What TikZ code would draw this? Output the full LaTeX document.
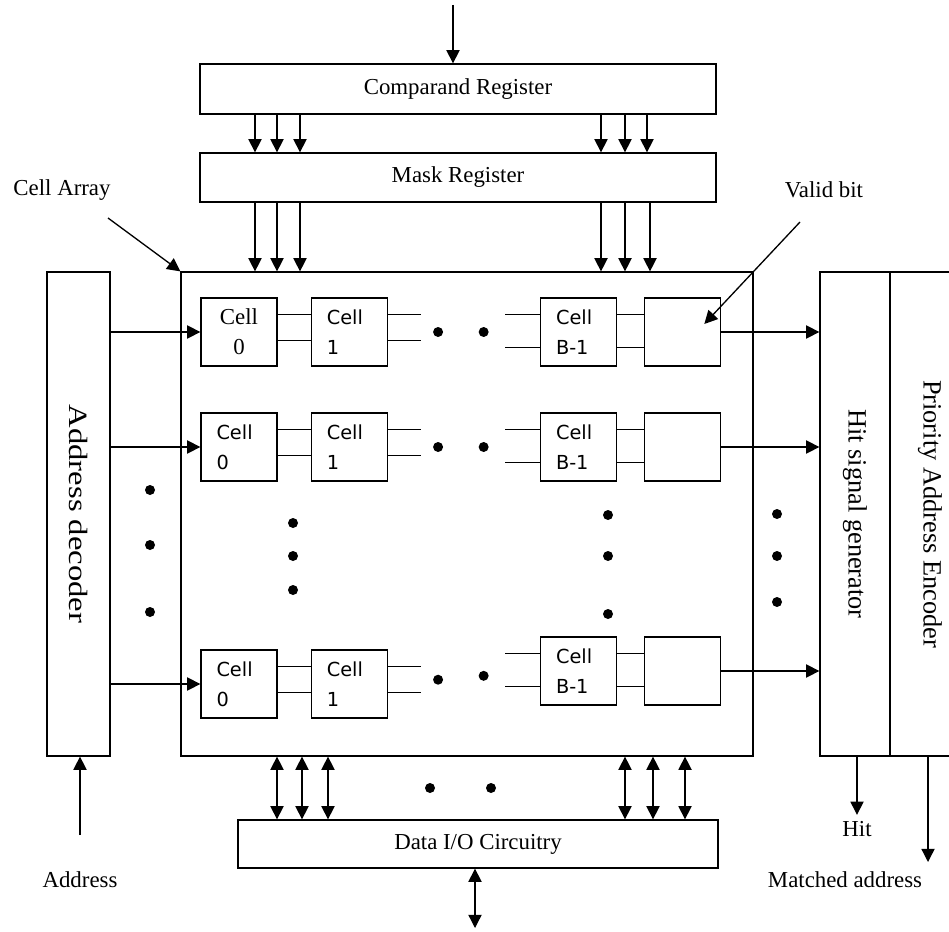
\documentclass[tikz,border=0pt]{standalone}
\usepackage{fontspec}
\setmainfont{Liberation Serif}
\newfontfamily\cellfont{DejaVu Sans}
\usetikzlibrary{calc, arrows.meta, positioning}

\begin{document}
\begin{tikzpicture}[x=0.02cm, y=-0.02cm, >={Triangle[length=7.5pt,width=7.5pt]}, line width=0.75pt, font=\fontsize{13}{15}\selectfont,
  box/.style={draw, inner sep=0pt, align=center},
  cell/.style={draw, inner sep=0pt, minimum width=1.52cm, minimum height=1.36cm, text width=0.9cm, align=left, font=\cellfont\fontsize{11}{17}\selectfont},
  cellz/.style={cell, align=center, font=\fontsize{13}{17}\selectfont},
  vtext/.style={font=\fontsize{15}{17}\selectfont}]
\clip (0,0) rectangle (949,932);
% registers and blocks
\node[box, minimum width=10.32cm, minimum height=1cm] (comp) at (458,89) {Comparand Register};
\node[box, minimum width=10.32cm, minimum height=0.98cm] (mask) at (458,177.5) {Mask Register};
\node[box, minimum width=11.44cm, minimum height=9.68cm] (arr) at (467,514) {};
\node[box, vtext, minimum width=1.26cm, minimum height=9.68cm] (dec) at (78.5,514) {\rotatebox{-90}{\scalebox{1.24}[1]{Address decoder}}};
\node[box, vtext, minimum width=1.4cm, minimum height=9.68cm] (hit) at (855,514) {\rotatebox{-90}{Hit signal generator}};
\node[box, vtext, minimum width=1.6cm, minimum height=9.68cm] (enc) at (930,514) {\rotatebox{-90}{Priority Address Encoder}};
\node[box, minimum width=9.6cm, minimum height=0.96cm] (dio) at (478,844) {Data I/O Circuitry};
% cell rows
\foreach \r/\y/\dy/\st in {1/332/0/cellz, 2/447/0/cell, 3/684/-13/cell} {
  \node[\st] (c0\r) at (239,\y) {Cell\\0};
  \node[cell, right=0.66cm of c0\r] (c1\r) {Cell\\1};
  \node[cell] (cb\r) at (578.5,\y+\dy) {Cell\\B-1};
  \node[cell, right=0.53cm of cb\r] (v\r) {};
  \draw ([yshift=10pt]c0\r.east) -- ([yshift=10pt]c1\r.west);
  \draw ([yshift=-5pt]c0\r.east) -- ([yshift=-5pt]c1\r.west);
  \draw ([yshift=10pt]c1\r.east) -- ++(0.66cm,0);
  \draw ([yshift=-5pt]c1\r.east) -- ++(0.66cm,0);
  \draw ([yshift=10pt]cb\r.west) -- ++(-0.7cm,0);
  \draw ([yshift=-9pt]cb\r.west) -- ++(-0.7cm,0);
  \draw ([yshift=10pt]cb\r.east) -- ([yshift=10pt]v\r.west);
  \draw ([yshift=-9pt]cb\r.east) -- ([yshift=-9pt]v\r.west);
  \fill ($(c1\r.east)!.33!(cb\r.west)$) circle (0.1cm);
  \fill ($(c1\r.east)!.63!(cb\r.west)$) circle (0.1cm);
  \draw[->] (dec.east |- c0\r.west) -- (c0\r.west);
  \draw[->] (v\r.east) -- (v\r.east -| hit.west);
}
% buses
\coordinate (cin) at (453,5);
\draw[->] (cin) -- (cin |- comp.north);
\foreach \x in {255,277,300,601,625,647}
  \draw[->] (\x,0 |- comp.south) -- (\x,0 |- mask.north);
\foreach \x in {255,277,300,601,625,650}
  \draw[->] (\x,0 |- mask.south) -- (\x,0 |- arr.north);
\foreach \x in {277,302,328,625,653,685}
  \draw[<->] (\x,0 |- arr.south) -- (\x,0 |- dio.north);
\coordinate (dout) at (475,928);
\draw[<->] (dout |- dio.south) -- (dout);
% dots
\foreach \px/\py in {150/490, 150/545, 150/612, 293/523, 293/556, 293/590, 608/515, 608/556, 608/614, 777/514, 777/556, 777/602, 430/788, 491/788}
  \fill (\px,\py) circle (0.1cm);
% labels
\node (lblarr) at (62,190) {Cell Array};
\coordinate (arrtail) at (108,218);
\draw[->] (arrtail) -- (arr.north west);
\node (lblvalid) at (824,190) {Valid bit};
\coordinate (vtail) at (800,222);
\draw[->] (vtail) -- ([shift={(22,-8)}]v1.center);
\node (lbladdr) at (80,880) {Address};
\coordinate (ain) at (80,835);
\draw[->] (ain) -- (ain |- dec.south);
\node (lblhit) at (857,829) {Hit};
\draw[->] (hit.south -| lblhit) -- (lblhit.north);
\node (lblmatch) at (845,880) {Matched address};
\coordinate (mout) at (928,862);
\draw[->] (mout |- enc.south) -- (mout);
\end{tikzpicture}
\end{document}
